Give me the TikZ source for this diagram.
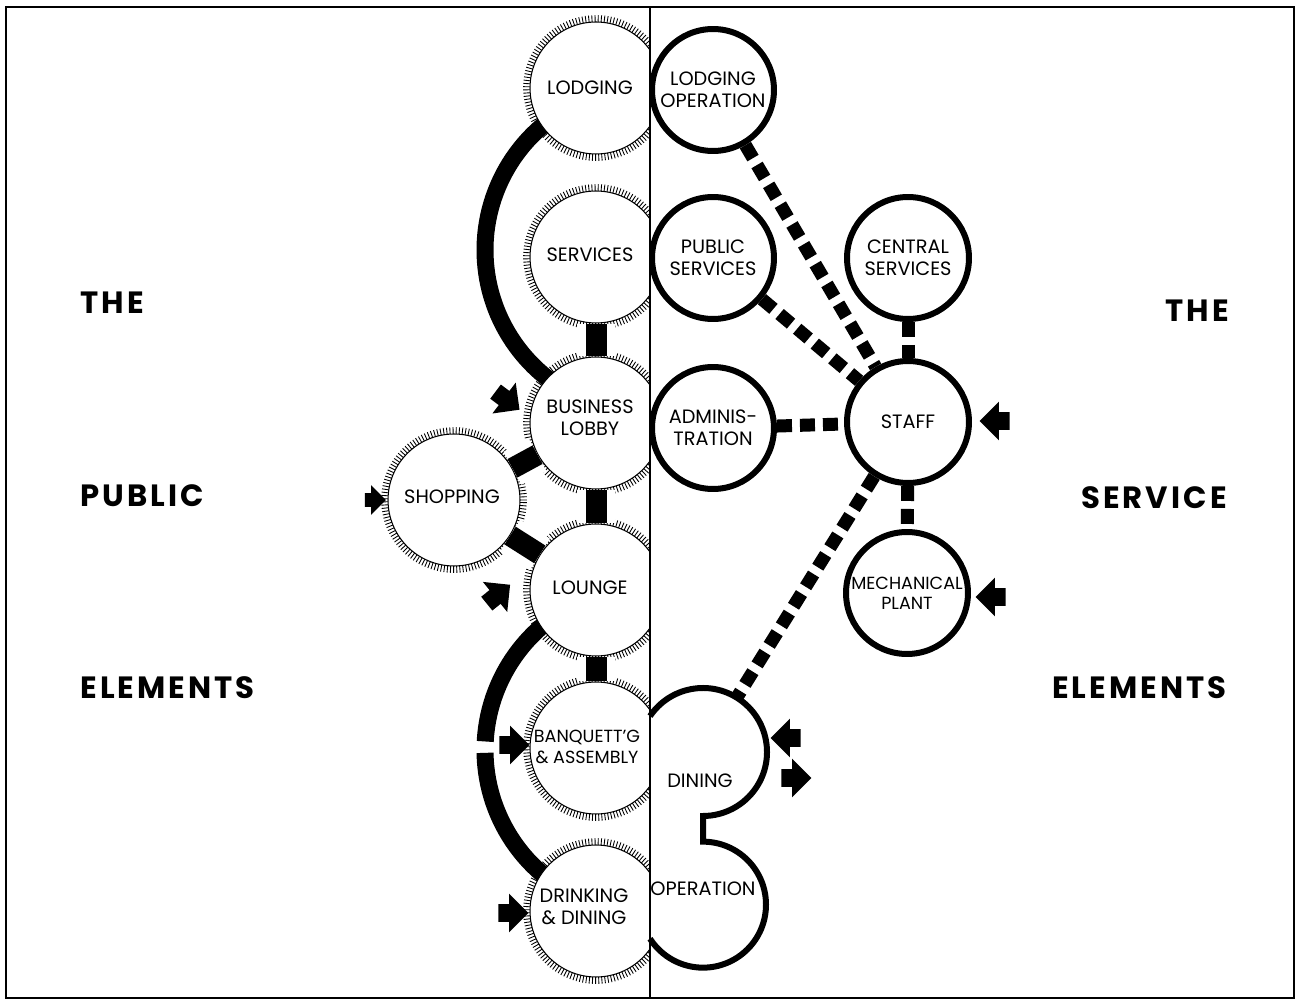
\documentclass[tikz,border=0pt]{standalone}
\usepackage{fontspec}
\setmainfont{Poppins}
\newfontfamily\hptitlefont[LetterSpace=10]{Poppins}
\usepackage{tikz}
\usetikzlibrary{backgrounds,decorations.pathreplacing,shapes.arrows}
\newcommand\hplabel{\fontsize{11}{12.5}\selectfont}
\newcommand\hpsmall{\fontsize{10}{11.5}\selectfont}
\newcommand\hptitle{\hptitlefont\bfseries\fontsize{17.5}{20}\selectfont}
\tikzset{
  hp plan/.style={x=0.02cm, y=-0.02cm, line join=miter},
  hp public/.style={circle, minimum size=2.64cm, inner sep=0pt, fill=white,
    draw=black, line width=0.6pt,
    preaction={draw, line width=0.5pt, decorate,
      decoration={ticks, segment length=1.7pt, amplitude=3.9pt}}},
  hp service/.style={circle, minimum size=2.44cm, inner sep=0pt, fill=white,
    draw=black, line width=0.12cm, align=center, font=\hplabel},
  hp area/.style={circle, inner sep=0pt},
  hp wall/.style={draw=black, line width=0.12cm},
  hp text/.style={align=center, inner sep=0pt, font=\hplabel},
  hp title/.style={inner sep=0pt, font=\hptitle},
  hp link/.style={line width=0.42cm, preaction={draw=white, line width=0.75cm}},
  hp loop/.style={line width=0.34cm},
  hp staffline/.style={line width=0.26cm, dash pattern=on 0.3cm off 0.16cm},
  hp entry/.style={single arrow, fill=black, inner xsep=0pt, inner ysep=0.17cm,
    minimum height=0.6cm, single arrow head extend=0.21cm}
}

\begin{document}
\begin{tikzpicture}[hp plan]
\useasboundingbox (0,0) rectangle (1306,1003);
\begin{scope}
  \clip (0,0) rectangle (650,1003);
  \node[hp public] (lodging) at (596,88) {};
  \node[hp public] (services) at (596,257) {};
  \node[hp public] (lobby) at (596,423) {};
  \node[hp public] (shopping) at (454,500) {};
  \node[hp public] (lounge) at (596,590) {};
  \node[hp public] (banquet) at (596,748) {};
  \node[hp public] (drinking) at (596,911) {};
\end{scope}
\node[hp text] (lodgingtxt) at (590,88) {LODGING};
\node[hp text] (servicestxt) at (590,255) {SERVICES};
\node[hp text] (lobbytxt) at (590,418) {BUSINESS\\LOBBY};
\node[hp text] (shoppingtxt) at (452,497) {SHOPPING};
\node[hp text] (loungetxt) at (590,588) {LOUNGE};
\node[hp text, font=\hpsmall] (banquettxt) at (587,747) {BANQUETT'G\\\& ASSEMBLY};
\node[hp text] (drinkingtxt) at (584,907) {DRINKING\\\& DINING};

\draw[hp link] (services) -- (lobby);
\draw[hp link] (lobby) -- (lounge);
\draw[hp link] (lounge) -- (banquet);
\draw[hp link] (shopping) -- (lobby);
\draw[hp link] (shopping) -- (lounge);

\begin{scope}[on background layer]
  \coordinate (hubtop) at (648,250);
  \coordinate (hubbottom) at (648,750);
  \draw[hp loop] (hubtop) ++(125:163) arc[start angle=125, end angle=232, radius=163];
  \draw[hp loop] (hubbottom) ++(126:163) arc[start angle=126, end angle=179, radius=163];
  \draw[hp loop] (hubbottom) ++(183:163) arc[start angle=183, end angle=234, radius=163];
\end{scope}

\node[hp service] (lodgingop) at (713,90) {LODGING\\OPERATION};
\node[hp service] (publicserv) at (713,258) {PUBLIC\\SERVICES};
\node[hp service] (admin) at (713,428) {ADMINIS-\\TRATION};
\node[hp service] (central) at (908,258) {CENTRAL\\SERVICES};
\node[hp service] (staff) at (908,422) {STAFF};
\node[hp service, font=\hpsmall] (mechanical) at (907,593) {MECHANICAL\\PLANT};

\node[hp area, minimum size=2.56cm] (dining) at (703,752) {};
\node[hp area, minimum size=2.52cm] (operation) at (703,905) {};
\draw[hp wall] (dining.center) ++(214.1:64) arc[start angle=214.1, end angle=450, radius=64]
  -- (operation.north) arc[start angle=270, end angle=507.3, radius=63];
\node[hp text] (diningtxt) at (700,781) {DINING};
\node[hp text] (operationtxt) at (703,889) {OPERATION};

\draw[hp staffline] (lodgingop) -- (staff);
\draw[hp staffline] (publicserv) -- (staff);
\draw[hp staffline] (admin) -- (staff);
\draw[hp staffline] (central) -- (staff);
\draw[hp staffline] (staff) -- (mechanical);
\draw[hp staffline] (staff) -- (dining);

\node[hp entry, rotate=-37] (lobbyin) at (504,398) {};
\node[hp entry, minimum height=0.42cm, inner ysep=0.13cm, single arrow head extend=0.16cm] (shoppingin) at (372,500) {};
\node[hp entry, rotate=39] (loungein) at (495,597) {};
\node[hp entry] (banquetin) at (510,745) {};
\node[hp entry] (drinkingin) at (509,913) {};
\node[hp entry, rotate=180] (staffin) at (999,421) {};
\node[hp entry, rotate=180] (mechanicalin) at (995,597) {};
\node[hp entry, rotate=180] (diningin) at (790,738) {};
\node[hp entry] (diningout) at (792,778) {};

\node[hp title, anchor=west] (pubthe) at (80,303) {THE};
\node[hp title, anchor=west] (pubpublic) at (80,496) {PUBLIC};
\node[hp title, anchor=west] (pubelements) at (80,688) {ELEMENTS};
\node[hp title, anchor=east] (servthe) at (1229,311) {THE};
\node[hp title, anchor=east] (servservice) at (1227,498) {SERVICE};
\node[hp title, anchor=east] (servelements) at (1227,688) {ELEMENTS};

\draw[line width=1.2pt] (6,7) rectangle (1294,998);
\draw[line width=0.9pt] (650,7) -- (650,998);
\end{tikzpicture}
\end{document}
